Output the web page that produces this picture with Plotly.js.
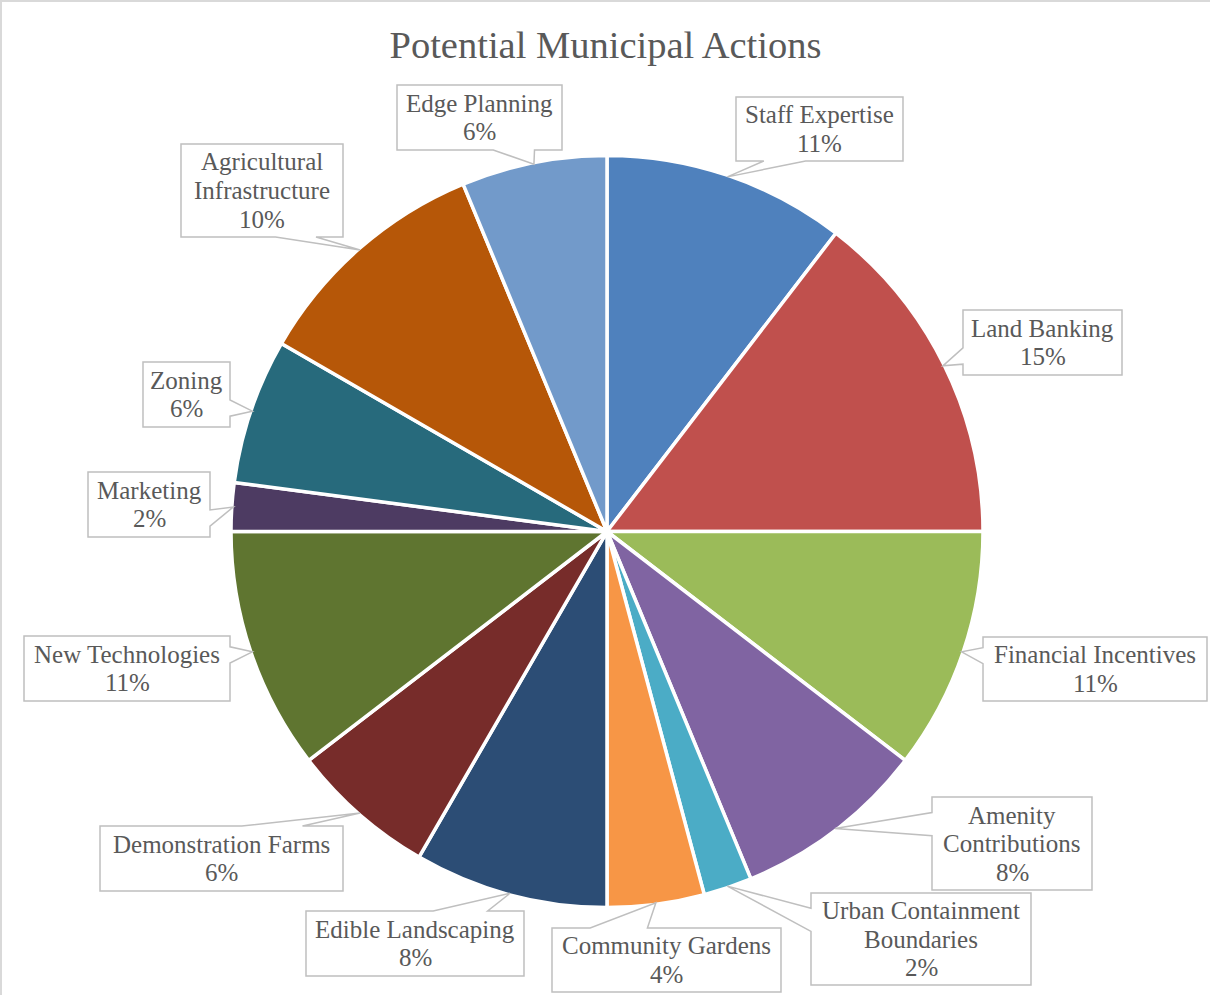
<!DOCTYPE html>
<html><head><meta charset="utf-8">
<script src="https://cdn.plot.ly/plotly-3.0.1.min.js"></script>
<style>html,body{margin:0;padding:0;background:#fff}#chart{width:1211px;height:995px}</style>
</head><body><div id="chart"></div>
<script>
// ---- data ----
const categories = ['Staff Expertise','Land Banking','Financial Incentives','Amenity Contributions',
  'Urban Containment Boundaries','Community Gardens','Edible Landscaping','Demonstration Farms',
  'New Technologies','Marketing','Zoning','Agricultural Infrastructure','Edge Planning'];
const responses = [5,7,5,4,1,2,4,3,5,1,3,5,3];
const percentLabels = ['11%','15%','11%','8%','2%','4%','8%','6%','11%','2%','6%','10%','6%'];

// ---- styles / layout ----
const sliceColors = ['#4F81BD','#C0504D','#9BBB59','#8064A2','#4BACC6','#F79646','#2C4D75',
  '#772C2A','#5F7530','#4D3B62','#276A7C','#B65708','#729ACA'];
const labelWrap = {
  'Amenity Contributions': ['Amenity','Contributions'],
  'Urban Containment Boundaries': ['Urban Containment','Boundaries'],
  'Agricultural Infrastructure': ['Agricultural','Infrastructure']
};
// callout boxes [x0,y0,x1,y1] in pixels (label placement)
const calloutBoxes = [
  [736,97,903,161],[963,310,1122,375],[983,637,1207,701],[932,797,1092,890],
  [811,893,1031,985],[552,928,781,992],[306,911,524,976],[100,826,343,891],
  [24,636,230,701],[88,472,210,537],[143,362,230,427],[181,144,343,237],[397,85,562,150]
];
const W = 1211, H = 995;
const CX = 607, CY = 531.5, R = 374.5;
const LINE_GAP = 28.5;
const FONT = 'Liberation Serif, Times New Roman, serif';

const px = x => x / W;
const py = y => 1 - y / H;

const total = responses.reduce((a,b)=>a+b,0);
const shapes = [];
const annotations = [];
let cum = 0;
responses.forEach((v,i) => {
  const mid = (cum + v/2) / total; cum += v;
  const th = 2*Math.PI*mid;
  const tx = CX + R*Math.sin(th), ty = CY - R*Math.cos(th);
  const [x0,y0,x1,y1] = calloutBoxes[i];
  const w = x1-x0, h = y1-y0, hc = (x0+x1)/2, vc = (y0+y1)/2;
  const dx = tx-hc, dy = ty-vc;
  const dq = dx*h/w, dz = Math.abs(dy) - Math.abs(dq);
  const xa = x0 + w*(dx>0?7:2)/12, xb = x0 + w*(dx>0?10:5)/12;
  const ya = y0 + h*(dy>0?7:2)/12, yb = y0 + h*(dy>0?10:5)/12;
  let pts;
  if (dz > 0) {
    if (dy < 0) pts = [[x0,y0],[xa,y0],[tx,ty],[xb,y0],[x1,y0],[x1,y1],[x0,y1]];
    else pts = [[x0,y0],[x1,y0],[x1,y1],[xb,y1],[tx,ty],[xa,y1],[x0,y1]];
  } else {
    if (dx < 0) pts = [[x0,y0],[x1,y0],[x1,y1],[x0,y1],[x0,yb],[tx,ty],[x0,ya]];
    else pts = [[x0,y0],[x1,y0],[x1,ya],[tx,ty],[x1,yb],[x1,y1],[x0,y1]];
  }
  const path = pts.map((p,k)=>(k?'L':'M')+px(p[0]).toFixed(5)+','+py(p[1]).toFixed(5)).join(' ')+' Z';
  shapes.push({type:'path', xref:'paper', yref:'paper', path:path,
    fillcolor:'#ffffff', line:{color:'#BFBFBF', width:1.5}, layer:'above'});
  const lines = (labelWrap[categories[i]] || [categories[i]]).concat([percentLabels[i]]);
  lines.forEach((t,k) => {
    const yy = vc + (k - (lines.length-1)/2)*LINE_GAP;
    annotations.push({text:t, xref:'paper', yref:'paper', x:px(hc), y:py(yy),
      xanchor:'center', yanchor:'middle', showarrow:false,
      font:{family:FONT, size:25, color:'#595959'}});
  });
});

// chart frame (top and left edges)
shapes.push({type:'path', xref:'paper', yref:'paper',
  path:'M'+px(1)+','+py(995)+' L'+px(1)+','+py(1)+' L'+px(1210)+','+py(1),
  line:{color:'#D9D9D9', width:2}, layer:'above'});

const RD = R + 1.5;
const trace = {
  type:'pie', values:responses, labels:categories, sort:false, direction:'clockwise', rotation:0,
  marker:{colors:sliceColors, line:{color:'#ffffff', width:3.5}},
  textinfo:'none', hoverinfo:'label+percent',
  domain:{x:[px(CX-RD), px(CX+RD)], y:[py(CY+RD), py(CY-RD)]}
};

const layout = {
  width:W, height:H, margin:{l:0,r:0,t:0,b:0},
  paper_bgcolor:'#ffffff', plot_bgcolor:'#ffffff', showlegend:false,
  title:{text:'Potential Municipal Actions', font:{family:FONT, size:38.5, color:'#595959'},
    x:0.5, xanchor:'center', y:py(45), yanchor:'middle'},
  shapes:shapes, annotations:annotations
};
Plotly.newPlot('chart',[trace],layout,{displayModeBar:false, staticPlot:true});
</script>
</body></html>
